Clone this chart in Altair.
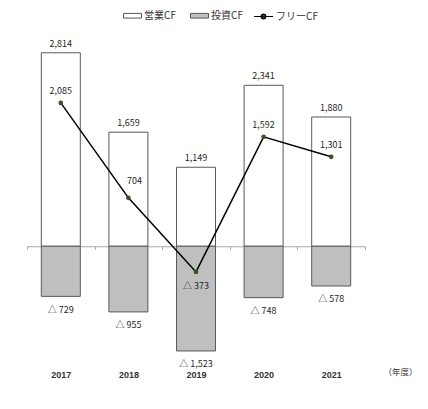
import altair as alt
import pandas as pd

years = ["2017", "2018", "2019", "2020", "2021"]
operating = [2814, 1659, 1149, 2341, 1880]
investing = [-729, -955, -1523, -748, -578]
free_cf = [2085, 704, -373, 1592, 1301]

series_bar = ["営業CF", "投資CF"]
series_line = "フリーCF"

bars_df = pd.DataFrame({
    "year": years * 2,
    "type": [series_bar[0]] * len(years) + [series_bar[1]] * len(years),
    "value": operating + investing,
})
free_df = pd.DataFrame({"year": years, "type": [series_line] * len(years), "value": free_cf})

Y_MIN, Y_MAX = -1800, 3000
W, H = 338, 330
zero_to_bottom = H * (0 - Y_MIN) / (Y_MAX - Y_MIN)
TICK = 3

NUM_FONT = "Liberation Sans"
JP_FONT = "Noto Sans CJK JP"
TXT = "#262626"

label_expr = "datum.value < 0 ? '△ ' + format(-datum.value, ',') : format(datum.value, ',')"

x = alt.X(
    "year:N", sort=years,
    scale=alt.Scale(paddingInner=0, paddingOuter=0),
    axis=alt.Axis(
        offset=-zero_to_bottom, domainColor="#a6a6a6", domainWidth=1,
        ticks=True, tickBand="extent", tickSize=TICK, tickColor="#a6a6a6",
        labelPadding=zero_to_bottom - TICK, labelFont=NUM_FONT, labelFontSize=9,
        labelFontWeight="bold", labelColor="#333333", labelAngle=0, grid=False,
        title="（年度）", titleFont=JP_FONT, titleFontSize=8.5, titleFontWeight="normal",
        titleColor="#333333", titleX=W + 35, titleY=zero_to_bottom + 1.5,
        titleAlign="center", titleBaseline="middle", titleAngle=0,
    ),
)
y = alt.Y("value:Q", scale=alt.Scale(domain=[Y_MIN, Y_MAX], nice=False, zero=True), axis=None)

rect_path = "M-1,-0.26H1V0.26H-1Z"
line_path = "M-1,0H1M-0.24,0A0.24,0.24,0,1,0,0.24,0A0.24,0.24,0,1,0,-0.24,0Z"

bars = alt.Chart(bars_df).mark_bar(size=39, stroke="#595959", strokeWidth=1).encode(
    x=x, y=y,
    fill=alt.Fill(
        "type:N",
        scale=alt.Scale(domain=series_bar, range=["#ffffff", "#bfbfbf"]),
        legend=alt.Legend(
            orient="none", legendX=96, legendY=-34, direction="horizontal", title=None,
            symbolType=rect_path, symbolSize=324, symbolStrokeColor="#595959",
            symbolStrokeWidth=1, labelFont=JP_FONT, labelFontSize=10, labelColor="#333333",
            labelOffset=2, columnPadding=12,
        ),
    ),
)

text_style = dict(baseline="middle", font=JP_FONT, fontSize=9, color=TXT)

bar_base = alt.Chart(bars_df).transform_calculate(label=label_expr)
op_labels = bar_base.transform_filter("datum.value >= 0").mark_text(
    dy=-9, **text_style
).encode(x=x, y=y, text="label:N")
inv_labels = bar_base.transform_filter("datum.value < 0").mark_text(
    dy=13.5, **text_style
).encode(x=x, y=y, text="label:N")

line = alt.Chart(free_df).mark_line(strokeWidth=1.5).encode(
    x=x, y=y,
    stroke=alt.Stroke(
        "type:N",
        scale=alt.Scale(domain=[series_line], range=["#000000"]),
        legend=alt.Legend(
            orient="none", legendX=226, legendY=-34, direction="horizontal", title=None,
            symbolType=line_path, symbolSize=361, symbolFillColor="#375623",
            symbolStrokeWidth=1.2, labelFont=JP_FONT, labelFontSize=10, labelColor="#333333",
            labelOffset=2,
        ),
    ),
)
points = alt.Chart(free_df).mark_circle(size=22, color="#375623", opacity=1).encode(x=x, y=y)

free_base = alt.Chart(free_df).transform_calculate(label=label_expr)
free_pos = free_base.transform_filter("datum.value >= 0 && datum.year != '2018'").mark_text(
    dy=-12, **text_style
).encode(x=x, y=y, text="label:N")
free_2018 = free_base.transform_filter("datum.year == '2018'").mark_text(
    dx=6, dy=-17, **text_style
).encode(x=x, y=y, text="label:N")
free_neg = free_base.transform_filter("datum.value < 0").mark_text(
    dy=14, **text_style
).encode(x=x, y=y, text="label:N")

chart = alt.layer(
    bars, op_labels, inv_labels, line, points, free_pos, free_2018, free_neg
).properties(
    width=W, height=H,
    padding={"left": 19, "top": 32, "right": 55, "bottom": 10},
    autosize=alt.AutoSizeParams(type="none"),
    background="white",
).configure_view(stroke=None)

chart.save("out.html", embed_options={"renderer": "svg", "actions": False})
